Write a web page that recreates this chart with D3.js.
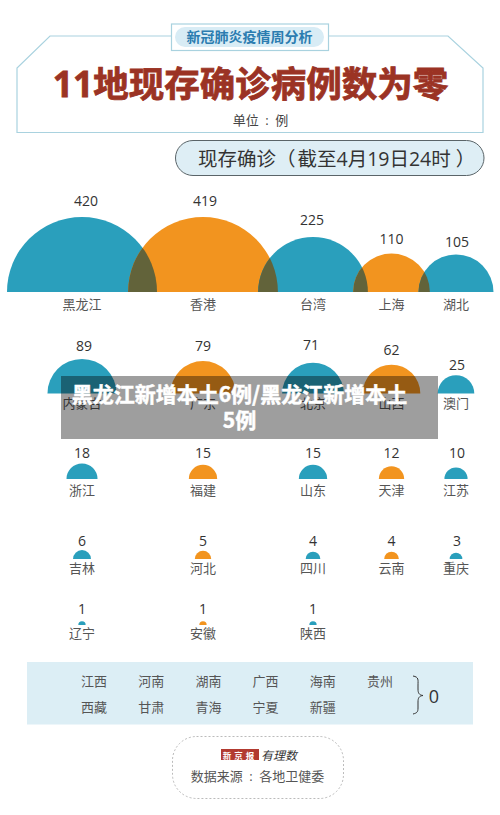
<!DOCTYPE html>
<html>
<head>
<meta charset="utf-8">
<script src="https://cdnjs.cloudflare.com/ajax/libs/d3/7.8.5/d3.min.js"></script>
<style>
  html, body { margin: 0; padding: 0; background: #fff; }
  svg { display: block; }
  text { font-family: "Open Sans", "Noto Sans CJK SC", sans-serif; text-anchor: middle; dominant-baseline: central; }
</style>
</head>
<body>
<div id="chart"></div>
<script>
// values per row
var namesRow1 = ['黑龙江', '香港', '台湾', '上海', '湖北'];
var valuesRow1 = [420, 419, 225, 110, 105];
var namesRow2 = ['内蒙古', '广东', '北京', '山西', '澳门'];
var valuesRow2 = [89, 79, 71, 62, 25];
var namesRow3 = ['浙江', '福建', '山东', '天津', '江苏'];
var valuesRow3 = [18, 15, 15, 12, 10];
var namesRow4 = ['吉林', '河北', '四川', '云南', '重庆'];
var valuesRow4 = [6, 5, 4, 4, 3];
var namesRow5 = ['辽宁', '安徽', '陕西'];
var valuesRow5 = [1, 1, 1];
var zeroLine1 = ['江西', '河南', '湖南', '广西', '海南', '贵州'];
var zeroLine2 = ['西藏', '甘肃', '青海', '宁夏', '新疆'];

var width = 500, height = 815;
var teal = '#2a9fbc', orange = '#f2941f', overlap = '#62633a';
var lineBlue = '#a9d2df', paleBlue = '#dceef5';

var svg = d3.select('#chart').append('svg')
  .attr('width', width)
  .attr('height', height);

// header
svg.append('path')
  .attr('d', 'M171,36H50L17,68V132.5H483V68L448,36H329')
  .attr('fill', 'none')
  .attr('stroke', lineBlue)
  .attr('stroke-width', 1.2);
svg.append('rect')
  .attr('x', 171.5).attr('y', 24).attr('width', 157).attr('height', 26.5)
  .attr('fill', '#fff').attr('stroke', lineBlue).attr('stroke-width', 1.2);
svg.append('rect')
  .attr('x', 175).attr('y', 27).attr('width', 149).attr('height', 20).attr('rx', 10)
  .attr('fill', '#d8ecf5');
svg.append('text')
  .attr('x', 249.5).attr('y', 36.5)
  .attr('font-size', 14).attr('font-weight', 700).attr('fill', '#2b7cb0')
  .text('新冠肺炎疫情周分析');
svg.append('text')
  .attr('x', 250.5).attr('y', 83)
  .attr('font-size', 35.5).attr('font-weight', 700).attr('fill', '#9b3324')
  .attr('stroke', '#9b3324').attr('stroke-width', 0.8)
  .text('11地现存确诊病例数为零');
svg.append('text')
  .attr('x', 260.5).attr('y', 120)
  .attr('font-size', 13).attr('fill', '#444')
  .text('单位\u2002:\u2002例');

svg.append('rect')
  .attr('x', 175.5).attr('y', 140.5).attr('width', 308.5).attr('height', 35).attr('rx', 17.5)
  .attr('fill', '#deeef5').attr('stroke', '#5a6468').attr('stroke-width', 1);
var pill = svg.append('text')
  .attr('x', 198).attr('y', 158)
  .attr('font-size', 19.5).attr('fill', '#333')
  .style('text-anchor', 'start');
pill.append('tspan').text('现存确诊（');
pill.append('tspan').attr('dx', 2).text('截至4月19日24时');
pill.append('tspan').attr('dx', 5).text('）');

// bubbles
var radius = d3.scaleSqrt().domain([0, 420]).range([0, 75]);
var colX = d3.scaleOrdinal().domain([0, 1, 2, 3, 4]).range([82, 203, 313, 391.5, 456]);
var halfDisc = function(v) {
  return d3.arc()({ innerRadius: 0, outerRadius: radius(v), startAngle: -Math.PI / 2, endAngle: Math.PI / 2 });
};

var rows = [
  { names: namesRow1, values: valuesRow1, base: 292, nameY: 304, valueY: [200.5, 200.5, 219, 238, 241], dx: [4, 2, -1, 0, 1] },
  { names: namesRow2, values: valuesRow2, base: 393.5, nameY: 403, valueY: [345, 345, 344, 349, 364], dx: [2, 0, -2, 0, 1] },
  { names: namesRow3, values: valuesRow3, base: 479, nameY: 489.5, valueY: [452, 452, 452, 452, 452], dx: [0, 0, 0, 0, 1] },
  { names: namesRow4, values: valuesRow4, base: 559, nameY: 567.5, valueY: [540.5, 540.5, 540.5, 540.5, 540.5], dx: [0, 0, 0, 0, 1] },
  { names: namesRow5, values: valuesRow5, base: 625, nameY: 632.5, valueY: [608.5, 608.5, 608.5], dx: [0, 0, 0] }
];

rows.forEach(function(row, r) {
  var g = svg.append('g').attr('class', 'row' + r);

  g.selectAll('path.bubble')
    .data(row.values)
    .enter().append('path')
    .attr('class', 'bubble')
    .attr('transform', function(d, i) { return 'translate(' + colX(i) + ',' + row.base + ')'; })
    .attr('d', function(d) { return halfDisc(d); })
    .attr('fill', function(d, i) { return i % 2 ? orange : teal; });

  // darker lens where neighbours overlap
  row.values.forEach(function(v, i) {
    if (i == 0) return;
    var prev = row.values[i - 1];
    if (colX(i) - colX(i - 1) >= radius(v) + radius(prev)) return;
    var id = 'clip' + r + '-' + i;
    g.append('clipPath').attr('id', id)
      .append('path')
      .attr('transform', 'translate(' + colX(i - 1) + ',' + row.base + ')')
      .attr('d', halfDisc(prev));
    g.append('g').attr('clip-path', 'url(#' + id + ')')
      .append('path')
      .attr('transform', 'translate(' + colX(i) + ',' + row.base + ')')
      .attr('d', halfDisc(v))
      .attr('fill', overlap);
  });

  g.selectAll('text.val')
    .data(row.values)
    .enter().append('text')
    .attr('class', 'val')
    .attr('x', function(d, i) { return colX(i) + row.dx[i]; })
    .attr('y', function(d, i) { return row.valueY[i]; })
    .attr('font-size', 14)
    .attr('fill', '#333')
    .text(function(d) { return d; });

  g.selectAll('text.name')
    .data(row.names)
    .enter().append('text')
    .attr('class', 'name')
    .attr('x', function(d, i) { return colX(i); })
    .attr('y', row.nameY)
    .attr('font-size', 13)
    .attr('fill', '#555')
    .text(function(d) { return d; });
});

// provinces at zero
svg.append('rect')
  .attr('x', 27).attr('y', 662).attr('width', 446).attr('height', 62.5)
  .attr('fill', paleBlue);
var zeroX = d3.scalePoint().domain(d3.range(6)).range([94, 380]);
[zeroLine1, zeroLine2].forEach(function(line, k) {
  svg.selectAll('text.zero' + k)
    .data(line)
    .enter().append('text')
    .attr('class', 'zero' + k)
    .attr('x', function(d, i) { return zeroX(i); })
    .attr('y', k ? 706.5 : 681)
    .attr('font-size', 13)
    .attr('fill', '#555')
    .text(function(d) { return d; });
});
svg.append('path')
  .attr('d', 'M413,676C419,677 418,680 418,685V689C418,693 419,695 423,695.5C419,696 418,698 418,702V708C418,712 417,713 413,714')
  .attr('fill', 'none').attr('stroke', '#333').attr('stroke-width', 1);
svg.append('text')
  .attr('x', 434).attr('y', 696)
  .attr('font-size', 18).attr('fill', '#333')
  .text('0');

// source box
svg.append('rect')
  .attr('x', 172.5).attr('y', 736.5).attr('width', 171).attr('height', 62).attr('rx', 24)
  .attr('fill', '#fff').attr('stroke', '#aaa').attr('stroke-width', 0.8).attr('stroke-dasharray', '2,2');
svg.append('rect')
  .attr('x', 221).attr('y', 749).attr('width', 38).attr('height', 11)
  .attr('fill', '#b23a30');
svg.append('text')
  .attr('x', 240).attr('y', 754.5)
  .attr('font-size', 8.5).attr('font-weight', 700).attr('fill', '#fff')
  .style('font-family', '"Noto Sans CJK SC", sans-serif')
  .attr('letter-spacing', 3)
  .text('新京报');
svg.append('text')
  .attr('x', 279).attr('y', 755)
  .attr('font-size', 12).attr('font-style', 'italic').attr('fill', '#333')
  .text('有理数');
svg.append('text')
  .attr('x', 257.5).attr('y', 776)
  .attr('font-size', 13).attr('fill', '#555')
  .text('数据来源\u2002:\u2002各地卫健委');

// grey banner on top of the chart
svg.append('rect')
  .attr('x', 61).attr('y', 376).attr('width', 377).attr('height', 63)
  .attr('fill', '#000').attr('fill-opacity', 0.38);
['黑龙江新增本土6例/黑龙江新增本土', '5例'].forEach(function(t, i) {
  svg.append('text')
    .attr('x', 239.5).attr('y', 393 + i * 26)
    .attr('font-size', 21).attr('font-weight', 700).attr('fill', '#fff')
    .attr('stroke', '#fff').attr('stroke-width', 0.5)
    .style('font-family', '"Noto Sans CJK SC", sans-serif')
    .text(t);
});
</script>
</body>
</html>
